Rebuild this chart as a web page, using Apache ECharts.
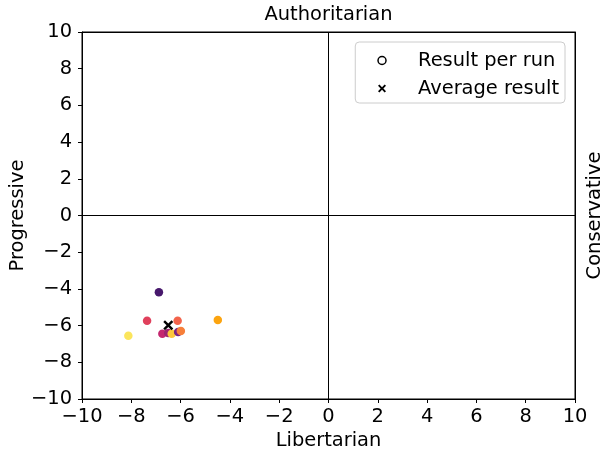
<!DOCTYPE html>
<html><head><meta charset="utf-8">
<script src="https://cdn.jsdelivr.net/npm/echarts@6/dist/echarts.min.js"></script>
<style>html,body{margin:0;padding:0;background:#fff}#c{width:605px;height:452px}</style>
</head><body><div id="c"></div>
<script>
const runX = [-6.88, -7.36, -6.12, -4.49, -8.12, -6.74, -6.50, -6.36, -6.10, -5.99];
const runY = [-4.18, -5.73, -5.73, -5.69, -6.55, -6.44, -6.40, -6.44, -6.35, -6.29];
const runColors = ['#47186c', '#e0405c', '#f3634b', '#fca40f', '#fbe55c', '#c4276f', '#9c2470', '#fcc73c', '#7a2381', '#f77f3a'];
const avgX = [-6.50];
const avgY = [-5.98];
const axisTicks = [-10, -8, -6, -4, -2, 0, 2, 4, 6, 8, 10];
const seriesNames = ['Result per run', 'Average result'];
const labels = {top: 'Authoritarian', bottom: 'Libertarian', left: 'Progressive', right: 'Conservative'};

const FONT = 'DejaVu Sans';
const FS = 19.44;
const crossPath = 'path://M0,1.7 L1.7,0 L5,3.3 L8.3,0 L10,1.7 L6.7,5 L10,8.3 L8.3,10 L5,6.7 L1.7,10 L0,8.3 L3.3,5 Z';
const fmt = v => v < 0 ? '\u2212' + Math.abs(v) : String(v);

const chart = echarts.init(document.getElementById('c'), null, {renderer: 'canvas'});
const axisBase = {
  min: axisTicks[0], max: axisTicks[axisTicks.length - 1], interval: 2,
  splitLine: {show: false},
  nameMoveOverlap: false,
  axisLine: {show: true, onZero: false, lineStyle: {color: '#000', width: 1}},
  axisTick: {show: true, inside: false, length: 4, lineStyle: {color: '#000'}},
  axisLabel: {color: '#000', fontFamily: FONT, fontSize: FS, formatter: fmt, margin: 8},
  nameTextStyle: {color: '#000', fontFamily: FONT, fontSize: FS}
};
chart.setOption({
  animation: false,
  grid: {left: 82, right: 30, top: 32, bottom: 53, show: true, borderColor: '#000', borderWidth: 1,
    containLabel: false, outerBoundsMode: 'none'},
  xAxis: [
    Object.assign({}, axisBase, {type: 'value', position: 'bottom', name: labels.bottom, nameLocation: 'middle', nameGap: 32}),
    Object.assign({}, axisBase, {type: 'value', position: 'top', name: labels.top, nameLocation: 'middle', nameGap: 8,
      axisTick: {show: false}, axisLabel: {show: false}})
  ],
  yAxis: [
    Object.assign({}, axisBase, {type: 'value', position: 'left', name: labels.left, nameLocation: 'middle', nameGap: 55, nameRotate: 90,
      axisLabel: Object.assign({}, axisBase.axisLabel, {margin: 10})}),
    Object.assign({}, axisBase, {type: 'value', position: 'right', name: labels.right, nameLocation: 'middle', nameGap: 10, nameRotate: 90,
      axisTick: {show: false}, axisLabel: {show: false}})
  ],
  legend: {
    orient: 'vertical', right: 40, top: 42,
    padding: [9, 6, 5, 22], itemGap: 9,
    borderColor: '#cccccc', borderWidth: 1, borderRadius: 4, backgroundColor: '#fff',
    textStyle: {color: '#000', fontFamily: FONT, fontSize: FS, padding: [0, 0, 0, 27]},
    itemWidth: 8, itemHeight: 8, symbolKeepAspect: true,
    data: [
      {name: seriesNames[0], icon: 'circle', itemStyle: {color: '#fff', borderColor: '#000', borderWidth: 1.5, opacity: 1}},
      {name: seriesNames[1], icon: crossPath, itemStyle: {color: '#000', borderWidth: 0, opacity: 1}}
    ]
  },
  series: [
    {
      name: seriesNames[0], type: 'scatter', symbol: 'circle', symbolSize: 8.5,
      data: runX.map((x, i) => ({value: [x, runY[i]], itemStyle: {color: runColors[i], opacity: 1}})),
      markLine: {
        silent: true, symbol: 'none', label: {show: false},
        lineStyle: {color: '#000', width: 1, type: 'solid'},
        data: [{xAxis: 0}, {yAxis: 0}]
      },
      z: 3
    },
    {
      name: seriesNames[1], type: 'scatter', symbol: crossPath, symbolSize: 10,
      itemStyle: {color: '#000', opacity: 1},
      data: avgX.map((x, i) => [x, avgY[i]]),
      z: 4
    }
  ]
});
</script></body></html>
